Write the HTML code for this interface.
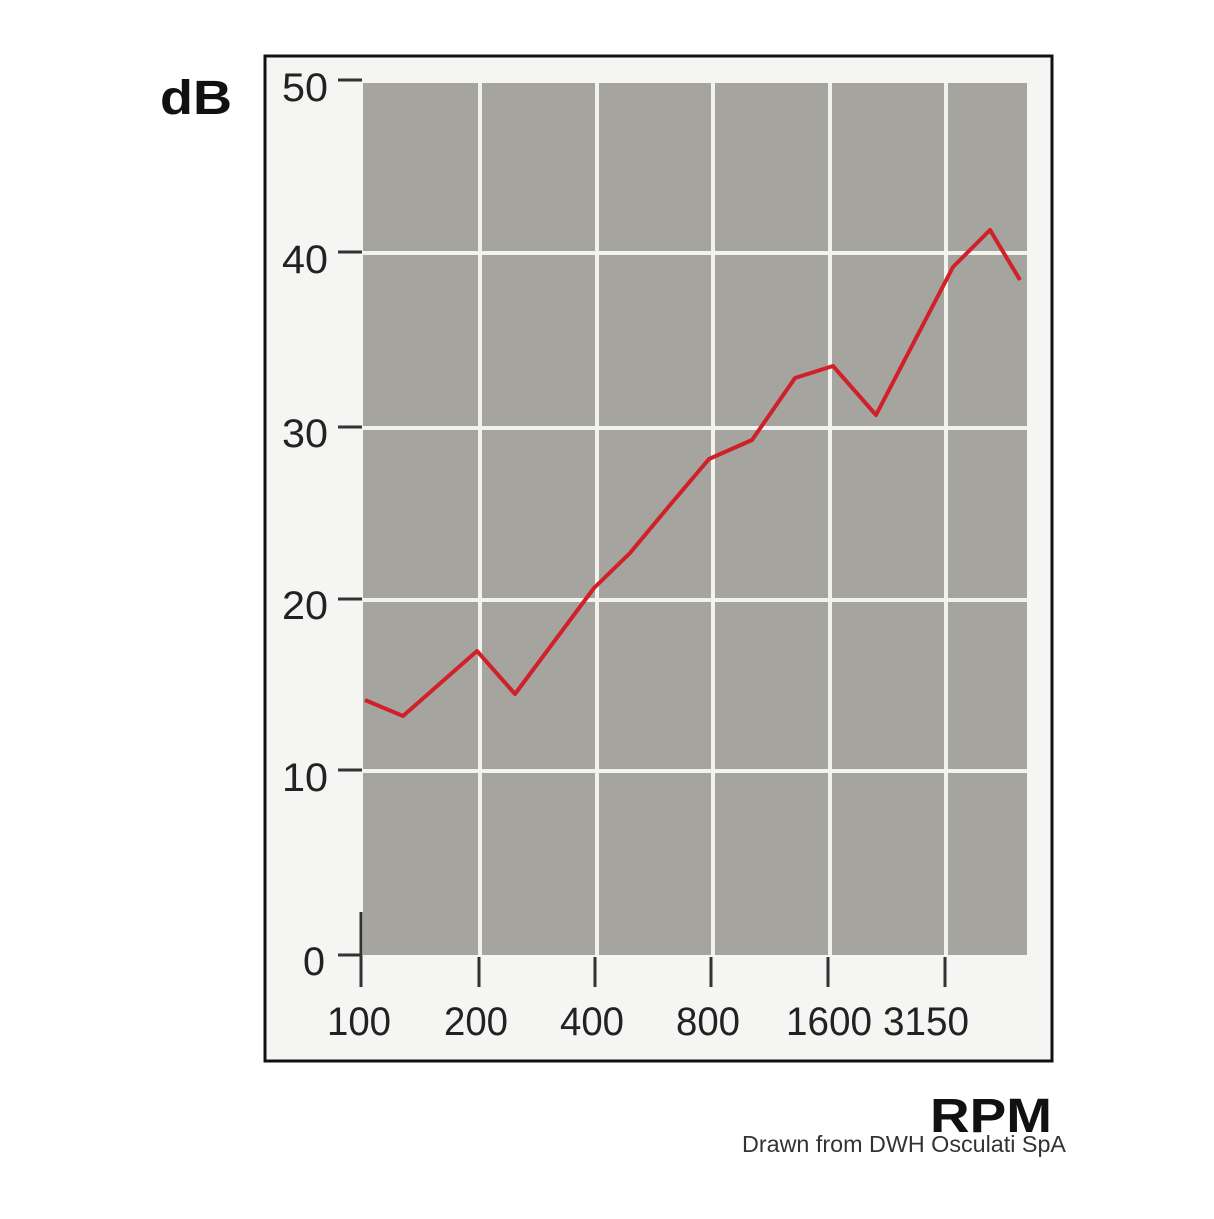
<!DOCTYPE html>
<html><head><style>body{margin:0;background:#fff}</style></head><body>
<svg width="1214" height="1214" xmlns="http://www.w3.org/2000/svg" font-family="Liberation Sans, sans-serif">
<rect width="1214" height="1214" fill="#fff"/>
<rect x="265" y="56" width="787" height="1005" fill="#f5f5f4" stroke="#111" stroke-width="3"/>
<rect x="363" y="83" width="664" height="872" fill="#a5a49f"/>
<g stroke="#f2f2ee" stroke-width="4">
<line x1="480" y1="83" x2="480" y2="955"/><line x1="597" y1="83" x2="597" y2="955"/>
<line x1="713" y1="83" x2="713" y2="955"/><line x1="830" y1="83" x2="830" y2="955"/>
<line x1="946" y1="83" x2="946" y2="955"/>
<line x1="363" y1="253" x2="1027" y2="253"/><line x1="363" y1="428" x2="1027" y2="428"/>
<line x1="363" y1="600" x2="1027" y2="600"/><line x1="363" y1="771" x2="1027" y2="771"/>
</g>
<g stroke="#333" stroke-width="3">
<line x1="338" y1="80" x2="362" y2="80"/><line x1="338" y1="252" x2="362" y2="252"/>
<line x1="338" y1="427" x2="362" y2="427"/><line x1="338" y1="599" x2="362" y2="599"/>
<line x1="338" y1="770" x2="362" y2="770"/><line x1="338" y1="955" x2="362" y2="955"/>
<line x1="361" y1="912" x2="361" y2="987"/>
<line x1="479" y1="957" x2="479" y2="987"/><line x1="595" y1="957" x2="595" y2="987"/>
<line x1="711" y1="957" x2="711" y2="987"/><line x1="828" y1="957" x2="828" y2="987"/>
<line x1="945" y1="957" x2="945" y2="987"/>
</g>
<polyline fill="none" stroke="#d0202a" stroke-width="4" stroke-linejoin="round" points="365,700 403,716 477,651 515,694 594,588 630,553 670,505 709,459 752,440 795,378 833,366 876,415 953,267 990,230 1020,280"/>
<g font-size="40" fill="#222" text-anchor="end">
<text x="328" y="101" textLength="46" lengthAdjust="spacingAndGlyphs">50</text>
<text x="328" y="273" textLength="46" lengthAdjust="spacingAndGlyphs">40</text>
<text x="328" y="447" textLength="46" lengthAdjust="spacingAndGlyphs">30</text>
<text x="328" y="619" textLength="46" lengthAdjust="spacingAndGlyphs">20</text>
<text x="328" y="791" textLength="46" lengthAdjust="spacingAndGlyphs">10</text>
<text x="325" y="975" textLength="22" lengthAdjust="spacingAndGlyphs">0</text>
</g>
<g font-size="40" fill="#222" text-anchor="middle">
<text x="359" y="1035" textLength="64" lengthAdjust="spacingAndGlyphs">100</text><text x="476" y="1035" textLength="64" lengthAdjust="spacingAndGlyphs">200</text>
<text x="592" y="1035" textLength="64" lengthAdjust="spacingAndGlyphs">400</text><text x="708" y="1035" textLength="64" lengthAdjust="spacingAndGlyphs">800</text>
<text x="829" y="1035" textLength="86" lengthAdjust="spacingAndGlyphs">1600</text><text x="926" y="1035" textLength="86" lengthAdjust="spacingAndGlyphs">3150</text>
</g>
<text x="160" y="114" font-size="48" font-weight="bold" fill="#111" textLength="72" lengthAdjust="spacingAndGlyphs">dB</text>
<text x="930" y="1132" font-size="48" font-weight="bold" fill="#111" textLength="122" lengthAdjust="spacingAndGlyphs">RPM</text>
<text x="742" y="1152" font-size="23" fill="#333" textLength="324" lengthAdjust="spacingAndGlyphs">Drawn from DWH Osculati SpA</text>
</svg>
</body></html>
